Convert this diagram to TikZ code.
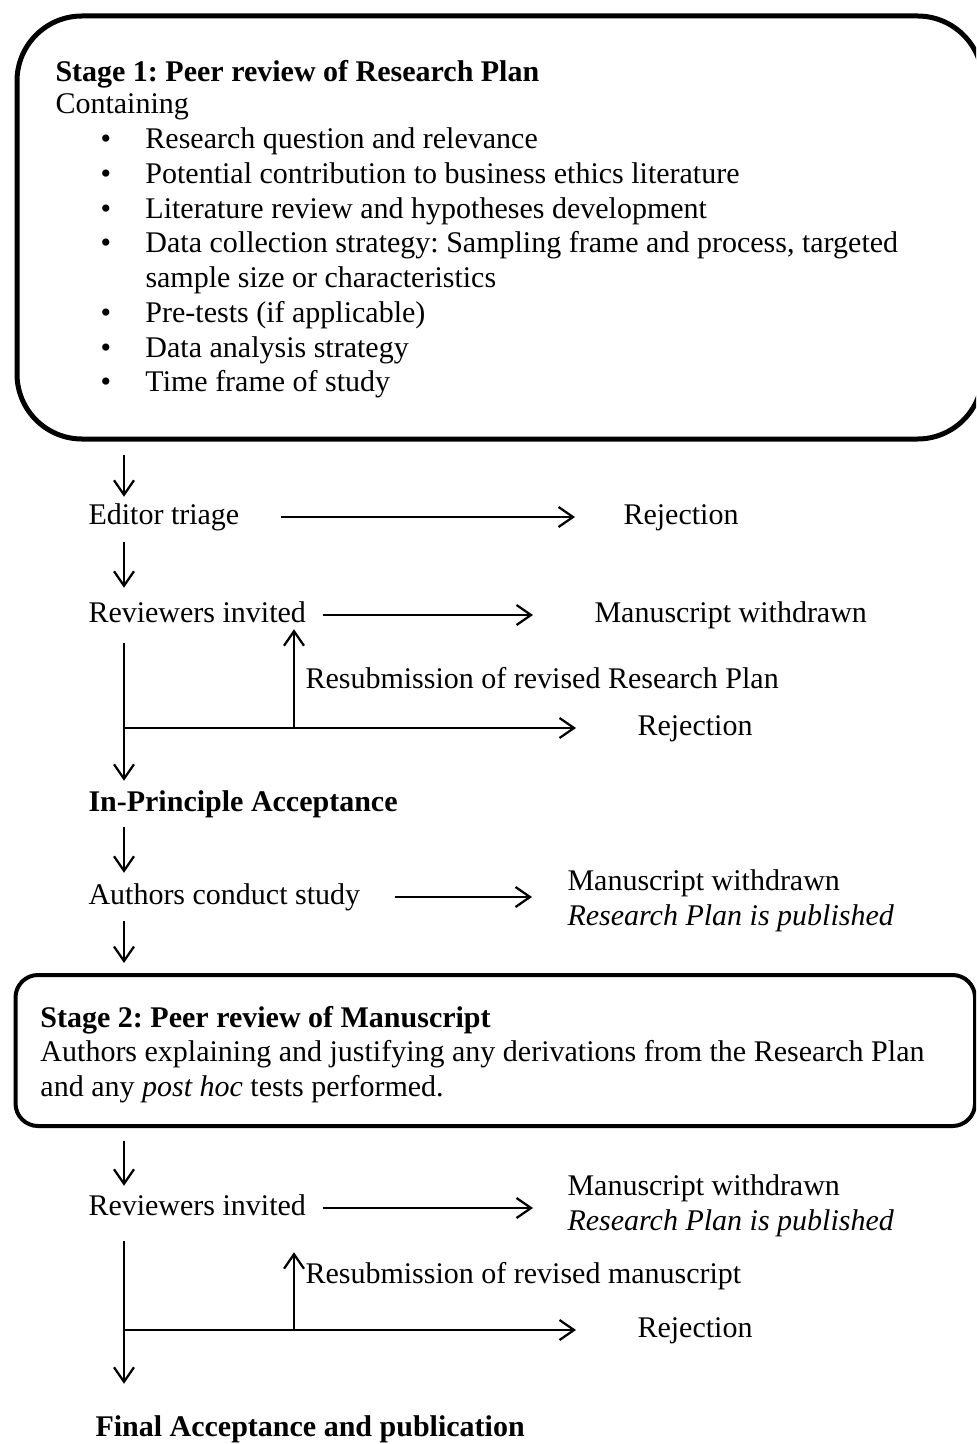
\documentclass[tikz,border=0pt]{standalone}
\usepackage{fontspec}
\setmainfont{Liberation Serif}
\frenchspacing
\usetikzlibrary{arrows.meta,positioning,calc}
\tikzstyle{arrow} = [-{Straight Barb[length=5.8pt,width=8pt]}, line width=0.9pt]
\tikzstyle{flowtext} = [anchor=west, inner sep=0pt, text height=8.4pt, text depth=2.6pt]
\tikzstyle{stagebox} = [draw, anchor=north west, inner sep=0pt]
\tikzstyle{boxtext} = [anchor=north west, inner sep=0pt, align=left]
\newcommand{\bitem}{\hspace*{18pt}\makebox[18pt][l]{\textbullet}}

\begin{document}
\begin{tikzpicture}[x=0.4pt, y=-0.4pt, font=\fontsize{12}{13.9}\selectfont]
    \useasboundingbox (0,0) rectangle (976,1444);
    \clip (0,0) rectangle (976,1444);
    % Stage 1 box
    \node[stagebox, line width=2pt, rounded corners=26pt, minimum width=386.2pt, minimum height=169.2pt] (stageone) at (14.5,13.5) {};
    \node[boxtext] (stageonetext) at (55,59.6) {\textbf{Stage 1: Peer review of Research Plan}\\[-0.8pt]
        Containing\\
        \bitem Research question and relevance\\
        \bitem Potential contribution to business ethics literature\\
        \bitem Literature review and hypotheses development\\
        \bitem Data collection strategy: Sampling frame and process, targeted\\
        \hspace*{36pt}sample size or characteristics\\
        \bitem Pre-tests (if applicable)\\
        \bitem Data analysis strategy\\
        \bitem Time frame of study};
    % Stage 2 box
    \node[stagebox, line width=1.6pt, rounded corners=9pt, minimum width=383.8pt, minimum height=60.4pt] (stagetwo) at (13.5,973) {};
    \node[boxtext] (stagetwotext) at (40,1005.6) {\textbf{Stage 2: Peer review of Manuscript}\\
        Authors explaining and justifying any derivations from the Research Plan\\
        and any \textit{post hoc} tests performed.};
    % Flow labels
    \coordinate (spine) at (124,0);
    \node[flowtext] (triage) at (88,517) {Editor triage};
    \node[flowtext] (rejone) at (623,517) {Rejection};
    \node[flowtext] (revone) at (88,615) {Reviewers invited};
    \node[flowtext] (wdone) at (594,615) {Manuscript withdrawn};
    \node[flowtext] (resubone) at (305,681) {Resubmission of revised Research Plan};
    \node[flowtext] (rejtwo) at (637,728) {Rejection};
    \node[flowtext] (ipa) at (88,804) {\textbf{In-Principle Acceptance}};
    \node[flowtext] (conduct) at (88,897) {Authors conduct study};
    \node[flowtext] (wdtwo) at (567,883) {Manuscript withdrawn};
    \node[flowtext] (pubone) at (567,918) {\textit{Research Plan is published}};
    \node[flowtext] (revtwo) at (88,1208) {Reviewers invited};
    \node[flowtext] (wdthree) at (567,1188) {Manuscript withdrawn};
    \node[flowtext] (pubtwo) at (567,1223) {\textit{Research Plan is published}};
    \node[flowtext] (resubtwo) at (305,1276) {Resubmission of revised manuscript};
    \node[flowtext] (rejthree) at (637,1330) {Rejection};
    \node[flowtext] (final) at (95,1429) {\textbf{Final Acceptance and publication}};
    \coordinate (splitone) at (124,728);
    \coordinate (backone) at (294,728);
    \coordinate (splittwo) at (124,1330);
    \coordinate (backtwo) at (294,1330);
    % Down the spine
    \draw[arrow, shorten <=5.2pt, shorten >=2.4pt] (stageone.south -| spine) -- (triage.north -| spine);
    \draw[arrow, shorten <=4.4pt, shorten >=5.2pt] (triage.south -| spine) -- (revone.north -| spine);
    \draw[arrow, shorten <=5.6pt, shorten >=3.6pt] (revone.south -| spine) -- (ipa.north -| spine);
    \draw[arrow, shorten <=3.6pt, shorten >=4pt] (ipa.south -| spine) -- (conduct.north -| spine);
    \draw[arrow, shorten <=4pt, shorten >=4pt] (conduct.south -| spine) -- (stagetwo.north -| spine);
    \draw[arrow, shorten <=5pt, shorten >=3.2pt] (stagetwo.south -| spine) -- (revtwo.north -| spine);
    \draw[arrow, shorten <=7.6pt, shorten >=12.4pt] (revtwo.south -| spine) -- (final.north -| spine);
    % Side exits
    \draw[arrow, shorten <=16.5pt, shorten >=19.2pt] (triage.east) -- (triage.east -| rejone.west);
    \draw[arrow, shorten <=6.6pt, shorten >=24.4pt] (revone.east) -- (revone.east -| wdone.west);
    \draw[arrow, shorten <=13.8pt, shorten >=14pt] (conduct.east) -- (conduct.east -| wdtwo.west);
    \draw[arrow, shorten <=6.6pt, shorten >=13.6pt] (revtwo.east) -- (revtwo.east -| wdthree.west);
    % Rejection and resubmission loops
    \draw[arrow, shorten >=24.4pt] (splitone) -- (rejtwo.west);
    \draw[arrow] (backone) -- (backone |- revone.south);
    \draw[arrow, shorten >=24.4pt] (splittwo) -- (rejthree.west);
    \draw[arrow, shorten >=12pt] (backtwo) -- (backtwo |- revtwo.south);
\end{tikzpicture}
\end{document}
